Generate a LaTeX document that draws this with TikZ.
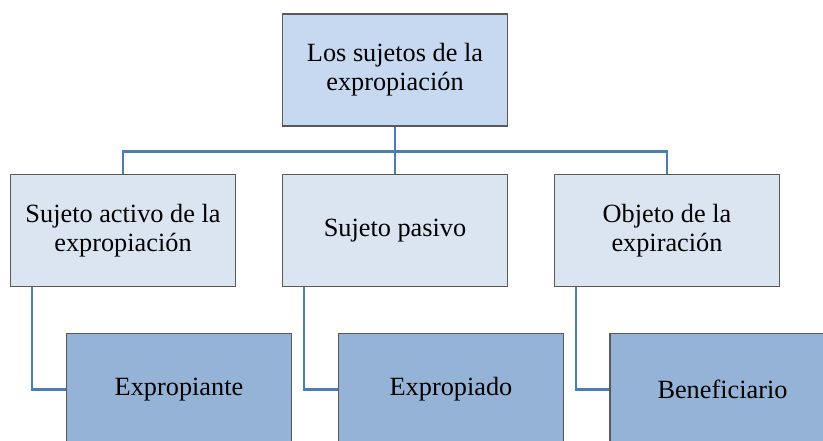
\documentclass[tikz,border=0pt]{standalone}
\usepackage{fontspec}
\setmainfont{Liberation Serif}
\usepackage{tikz}
\definecolor{cabeza}{HTML}{C6D9F1}
\definecolor{medio}{HTML}{DBE5F1}
\definecolor{hoja}{HTML}{95B3D7}
\definecolor{enlace}{HTML}{4A7EBB}
\definecolor{borde}{HTML}{595959}

\begin{document}
\begin{tikzpicture}[x=0.5bp, y=-0.5bp,
		caja/.style={draw=borde, line width=0.75bp, minimum width=112.3bp, minimum height=56bp, align=center, inner sep=0pt, font=\fontsize{13.2}{14.5}\selectfont},
		enl/.style={draw=enlace, line width=1.3bp}]
		%%%%% START %%%%%
		\useasboundingbox (0, 0) rectangle (823, 441);
		\clip (0, 0) rectangle (823, 441);
		
		\node[caja, fill=cabeza] (sujetos) at (395, 70) {Los sujetos de la\\expropiación};
		
		\node[caja, fill=medio] (activo) at (123, 230.6) {Sujeto activo de la\\expropiación};
		\node[caja, fill=medio] (pasivo) at (395, 230.6) {Sujeto pasivo};
		\node[caja, fill=medio] (objeto) at (667, 230.6) {Objeto de la\\expiración};
		
		\node[caja, fill=hoja] (expropiante) at (179, 389.5) {Expropiante};
		\node[caja, fill=hoja] (expropiado) at (451, 389.5) {Expropiado};
		\node[caja, fill=hoja] (beneficiario) at (722.5, 389.5) {Beneficiario};
		
		\draw[enl] (sujetos.south) -- ++(0, 25) -| (activo.north);
		\draw[enl] (sujetos.south) -- ++(0, 25) -| (objeto.north);
		\draw[enl] (sujetos.south) -- (pasivo.north);
		
		\draw[enl] (activo.south west) ++(22, 0) |- (expropiante.west);
		\draw[enl] (pasivo.south west) ++(22, 0) |- (expropiado.west);
		\draw[enl] (objeto.south west) ++(22, 0) |- (beneficiario.west);
		%%%%% END %%%%%
	\end{tikzpicture}
\end{document}
